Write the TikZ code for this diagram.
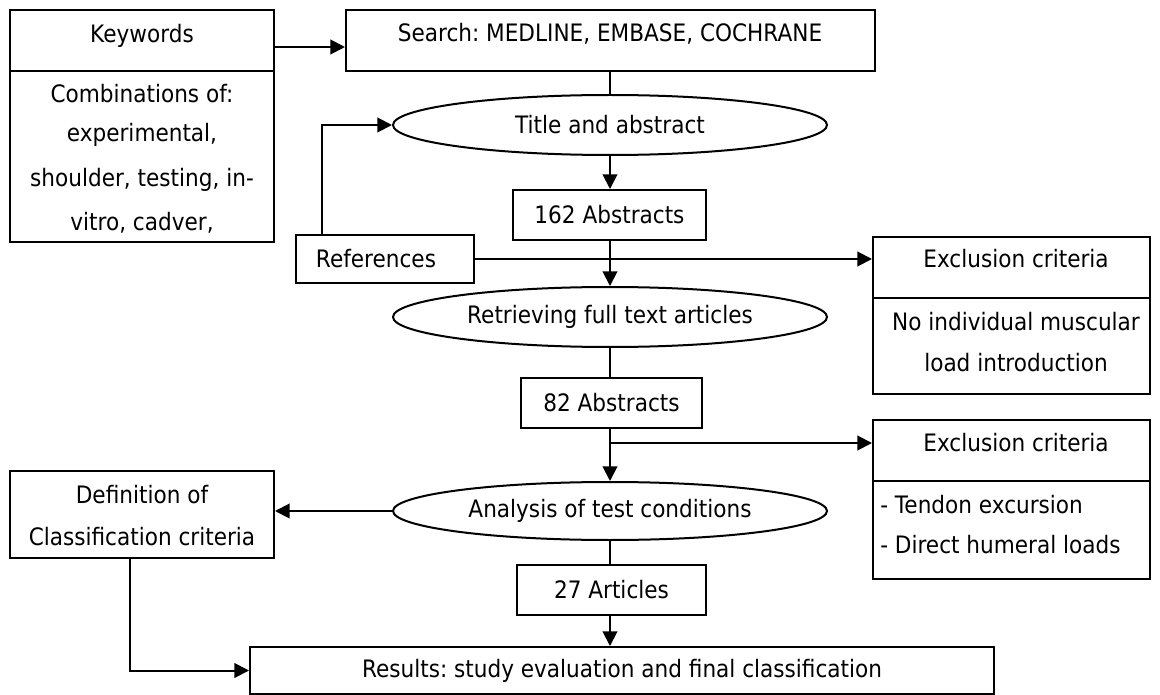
\documentclass[tikz,border=0pt]{standalone}
\usepackage{fontspec}
\setmainfont{DejaVu Sans}[FakeStretch=0.9]
\usetikzlibrary{arrows.meta,shapes.geometric}
\frenchspacing
\begin{document}
\begin{tikzpicture}[x=0.75pt,y=-0.75pt,
  every node/.style={font=\fontsize{18}{21}\selectfont},
  box/.style={draw, line width=1.5pt, inner sep=0pt, rectangle},
  oval/.style={draw, line width=1.5pt, ellipse, inner sep=0pt, minimum width=325.5pt},
  txt/.style={anchor=base, inner sep=0pt},
  conn/.style={line width=1.5pt},
  arr/.style={conn, -{Triangle[length=11pt,width=11pt]}}]
\useasboundingbox (0,0) rectangle (1160,695);

% Keywords box
\node[box, minimum width=198pt, minimum height=174pt] (kw) at (142,126) {};
\draw[conn] (kw.west |- 0,71) -- (kw.east |- 0,71);
\node[txt] (kwt) at (142,43) {Keywords};
\node[txt] (kw1) at (142,103) {Combinations of:};
\node[txt] (kw2) at (142,142) {experimental,};
\node[txt] (kw3) at (142,187) {shoulder, testing, in-};
\node[txt] (kw4) at (142,231) {vitro, cadver,};

% Search
\node[box, minimum width=396.75pt, minimum height=45.75pt] (search) at (610.5,40.5) {};
\node[txt] (searcht) at (610,42) {Search: MEDLINE, EMBASE, COCHRANE};

% Title and abstract
\node[oval, minimum height=45pt] (title) at (610,125) {Title and abstract};

% 162 Abstracts
\node[box, minimum width=144.75pt, minimum height=37.5pt] (a162) at (609.5,215) {162 Abstracts};

% References
\node[box, minimum width=133.5pt, minimum height=36pt] (refs) at (385,259) {};
\node[inner sep=0pt] (refst) at (376,259) {References};

% Exclusion 1
\node[box, minimum width=207.75pt, minimum height=117.75pt] (ex1) at (1011.5,315.5) {};
\draw[conn] (ex1.west |- 0,298) -- (ex1.east |- 0,298);
\node[txt] (ex1t) at (1016,268) {Exclusion criteria};
\node[txt] (ex1a) at (1016,330) {No individual muscular};
\node[txt] (ex1b) at (1016,371) {load introduction};

% Retrieving
\node[oval, minimum height=45pt] (retr) at (610,317) {Retrieving full text articles};

% 82 Abstracts
\node[box, minimum width=135.75pt, minimum height=37.5pt] (a82) at (611.5,403) {82 Abstracts};

% Exclusion 2
\node[box, minimum width=207.75pt, minimum height=119.25pt] (ex2) at (1011.5,499.5) {};
\draw[conn] (ex2.west |- 0,481) -- (ex2.east |- 0,481);
\node[txt] (ex2t) at (1016,451) {Exclusion criteria};
\node[txt, anchor=base west] (ex2a) at (880,513) {- Tendon excursion};
\node[txt, anchor=base west] (ex2b) at (880,553) {- Direct humeral loads};

% Analysis
\node[oval, minimum height=43.5pt] (anal) at (610,511) {Analysis of test conditions};

% Definition
\node[box, minimum width=198pt, minimum height=65.25pt] (defn) at (142,514.5) {};
\node[txt] (defn1) at (142,503) {Definition of};
\node[txt] (defn2) at (142,545) {Classification criteria};

% 27 Articles
\node[box, minimum width=141.75pt, minimum height=37.5pt] (a27) at (611.5,590) {27 Articles};

% Results
\node[box, minimum width=558pt, minimum height=35.25pt] (res) at (622,670.5) {Results: study evaluation and final classification};

% Connectors
\draw[arr] (kw.east |- 0,47) -- (search.west |- 0,47);
\draw[conn] (search.south -| title.north) -- (title.north);
\draw[arr] (title.south) -- (title.south |- a162.north);
\draw[arr] (refs.north west -| 322,0) |- (title.west);
\draw[arr] (refs.east) -- (refs.east -| ex1.west);
\draw[arr] (a162.south -| retr.north) -- (retr.north);
\draw[conn] (retr.south) -- (retr.south |- a82.north);
\draw[arr] (a82.south -| anal.north) -- (anal.north);
\coordinate (br) at (610,443);
\draw[arr] (br) -- (br -| ex2.west);
\draw[arr] (anal.west) -- (anal.west -| defn.east);
\draw[conn] (anal.south) -- (anal.south |- a27.north);
\draw[arr] (a27.south -| anal.south) -- (anal.south |- res.north);
\draw[arr] (defn.south -| 130,0) |- (res.west);
\end{tikzpicture}
\end{document}
